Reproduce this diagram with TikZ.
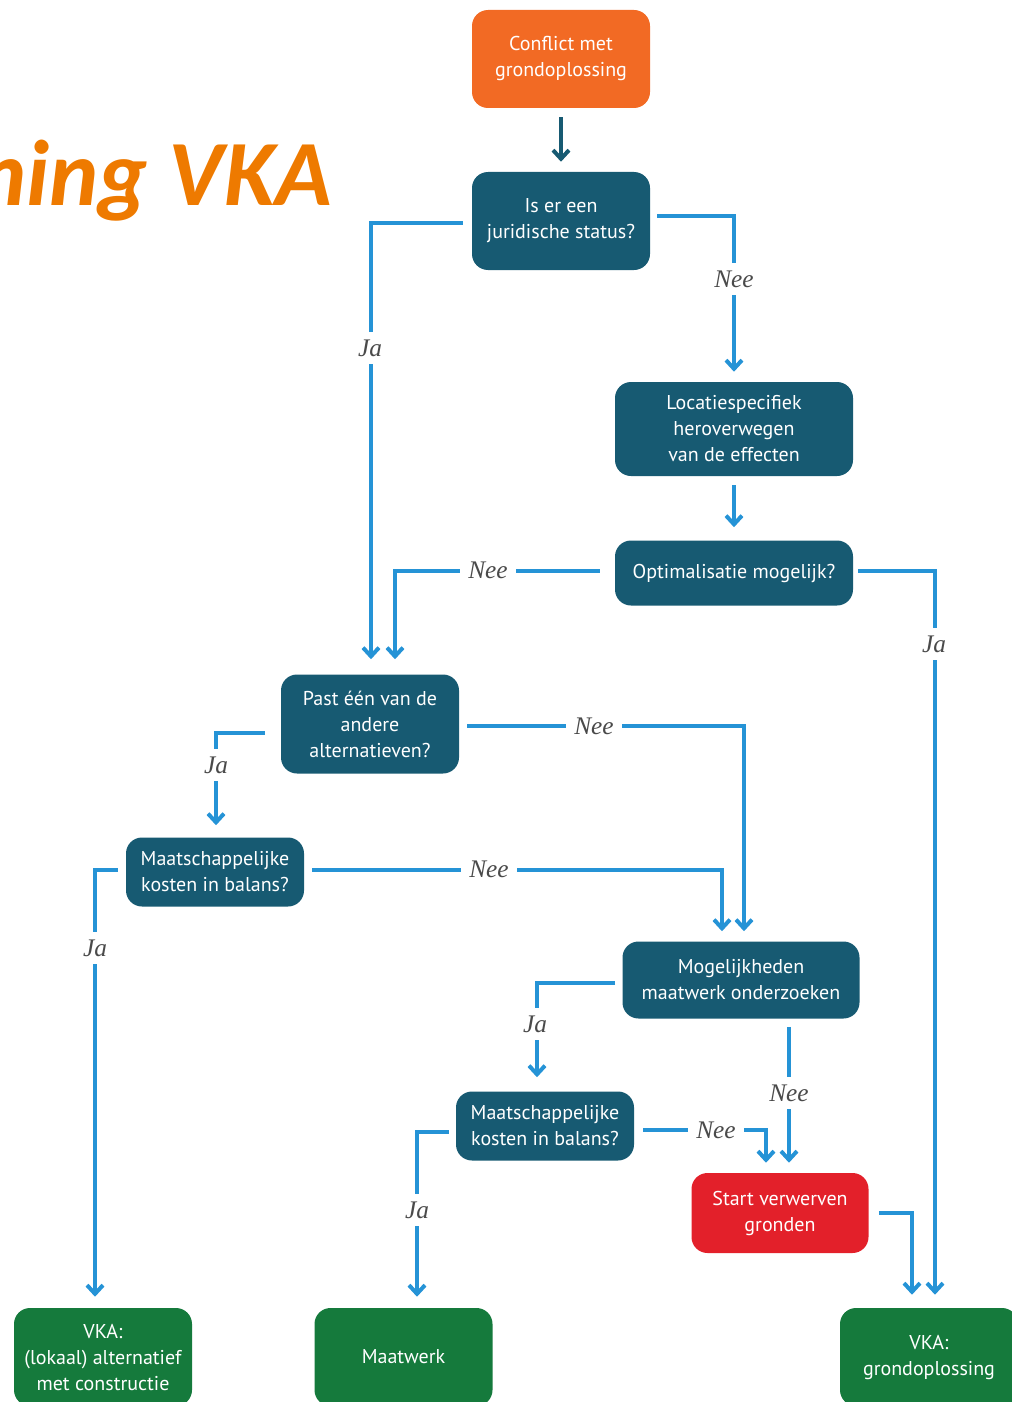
\documentclass[tikz,border=0pt]{standalone}
\usepackage{fontspec}
\setmainfont{PT Sans}
\newfontfamily\labelfont{Liberation Serif}
\newfontfamily\titlefont{Carlito}
\usetikzlibrary{arrows.meta}
\definecolor{cOrange}{RGB}{242,106,36}
\definecolor{cTeal}{RGB}{23,90,114}
\definecolor{cRed}{RGB}{227,32,42}
\definecolor{cGreen}{RGB}{21,122,60}
\definecolor{cBlue}{RGB}{37,147,214}
\definecolor{cTitle}{RGB}{238,122,0}
\definecolor{cLabel}{RGB}{74,74,74}
\def\px{0.75pt}
\begin{document}
\begin{tikzpicture}[x=0.75pt,y=-0.75pt,
  box/.style={rectangle, rounded corners=12pt, text=white, align=center,
    font=\fontsize{15}{19.5}\selectfont, inner sep=0pt, minimum width=178*\px},
  tealbox/.style={box, fill=cTeal},
  conn/.style={line width=3pt, draw=cBlue, -{Straight Barb[length=6.5pt,width=12pt]}},
  darkconn/.style={conn, draw=cTeal},
  lbl/.style={fill=white, text=cLabel, inner xsep=6pt, inner ysep=6pt,
    font=\labelfont\itshape\fontsize{19}{20}\selectfont}
]
\useasboundingbox (0,0) rectangle (1011,1402);

% title
\node[anchor=base east, text=cTitle, inner sep=0pt,
  font=\titlefont\bfseries\itshape\fontsize{70}{80}\selectfont] (title) at (332,205) {ning VKA};

% boxes
\node[box, fill=cOrange, minimum height=98*\px] (conf) at (561,59) {Conflict met\\grondoplossing};
\node[tealbox, minimum height=98*\px] (isr) at (561,221) {Is er een\\juridische status?};
\node[tealbox, minimum width=238*\px, minimum height=94*\px] (loc) at (734,429) {Locatiespecifiek\\heroverwegen\\van de effecten};
\node[tealbox, minimum width=238*\px, minimum height=65*\px] (opt) at (734,573) {Optimalisatie mogelijk?};
\node[tealbox, minimum height=99*\px] (past) at (370,724) {Past één van de\\andere\\alternatieven?};
\node[tealbox, minimum height=69*\px] (m1) at (215,872) {Maatschappelijke\\kosten in balans?};
\node[tealbox, minimum width=237*\px, minimum height=77*\px] (mog) at (741,980) {Mogelijkheden\\maatwerk onderzoeken};
\node[tealbox, minimum height=69*\px] (m2) at (545,1126) {Maatschappelijke\\kosten in balans?};
\node[box, fill=cRed, minimum width=177*\px, minimum height=80*\px] (start) at (780,1213) {Start verwerven\\gronden};
\node[box, fill=cGreen, minimum height=98*\px] (vka1) at (103,1357) {VKA:\\(lokaal) alternatief\\met constructie};
\node[box, fill=cGreen, minimum height=98*\px] (mw) at (403.5,1357) {Maatwerk};
\node[box, fill=cGreen, minimum height=98*\px] (vka2) at (929,1357) {VKA:\\grondoplossing};

% connectors
\draw[darkconn, shorten <=9*\px, shorten >=10*\px] (conf.south) -- (isr.north);
\draw[conn, shorten >=15*\px] ([shift={(-9,2)}]isr.west) -| ([shift={(1,0)}]past.north);
\draw[conn, shorten >=10*\px] ([shift={(7,-5)}]isr.east) -| (loc.north);
\draw[conn, shorten <=9*\px, shorten >=13*\px] (loc.south) -- (opt.north);
\draw[conn, shorten >=15*\px] ([shift={(-15,-2)}]opt.west) -| ([shift={(25,0)}]past.north);
\draw[conn, shorten >=13*\px] ([shift={(5,-2)}]opt.east) -| ([shift={(6,0)}]vka2.north);
\draw[conn, shorten >=12*\px] ([shift={(-16,9)}]past.west) -| ([shift={(1,0)}]m1.north);
\draw[conn, shorten >=10*\px] ([shift={(8,2)}]past.east) -| ([shift={(3,0)}]mog.north);
\draw[conn, shorten >=11*\px] ([shift={(-8,-2)}]m1.west) -| ([shift={(-8,0)}]vka1.north);
\draw[conn, shorten >=10*\px] ([shift={(8,-2)}]m1.east) -| ([shift={(-19,0)}]mog.north);
\draw[conn, shorten >=14*\px] ([shift={(-7,3)}]mog.west) -| ([shift={(-8,0)}]m2.north);
\draw[conn, shorten >=10*\px] ([shift={(48,8)}]mog.south) -- ([shift={(9,0)}]start.north);
\draw[conn, shorten >=11*\px] ([shift={(-7,6)}]m2.west) -| ([shift={(13.5,0)}]mw.north);
\draw[conn, shorten >=10*\px] ([shift={(9,4)}]m2.east) -| ([shift={(-14,0)}]start.north);
\draw[conn, shorten >=13*\px] ([shift={(10,0)}]start.east) -| ([shift={(-17,0)}]vka2.north);

% labels
\node[lbl] (l1) at (370,348) {Ja};
\node[lbl] (l2) at (734,279) {Nee};
\node[lbl] (l3) at (488,570) {Nee};
\node[lbl] (l4) at (934,644) {Ja};
\node[lbl] (l5) at (216,765) {Ja};
\node[lbl] (l6) at (594,726) {Nee};
\node[lbl] (l7) at (95,948) {Ja};
\node[lbl] (l8) at (489,869) {Nee};
\node[lbl] (l9) at (535,1024) {Ja};
\node[lbl] (l10) at (789,1093) {Nee};
\node[lbl] (l11) at (417,1210) {Ja};
\node[lbl] (l12) at (716,1130) {Nee};
\end{tikzpicture}
\end{document}
